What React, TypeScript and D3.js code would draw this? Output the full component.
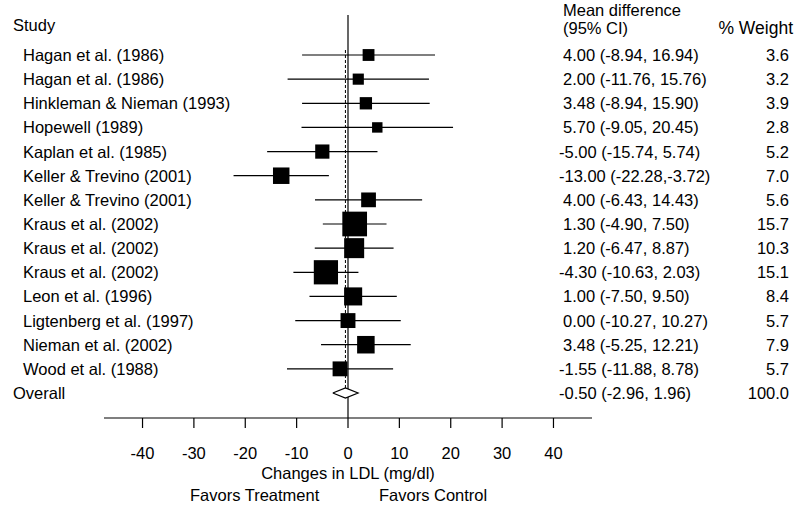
import React from "react";
import * as d3 from "d3";

const studies = [
  "Hagan et al. (1986)",
  "Hagan et al. (1986)",
  "Hinkleman & Nieman (1993)",
  "Hopewell (1989)",
  "Kaplan et al. (1985)",
  "Keller & Trevino (2001)",
  "Keller & Trevino (2001)",
  "Kraus et al. (2002)",
  "Kraus et al. (2002)",
  "Kraus et al. (2002)",
  "Leon et al. (1996)",
  "Ligtenberg et al. (1997)",
  "Nieman et al. (2002)",
  "Wood et al. (1988)",
];
const means = [4.0, 2.0, 3.48, 5.7, -5.0, -13.0, 4.0, 1.3, 1.2, -4.3, 1.0, 0.0, 3.48, -1.55];
const lows = [-8.94, -11.76, -8.94, -9.05, -15.74, -22.28, -6.43, -4.9, -6.47, -10.63, -7.5, -10.27, -5.25, -11.88];
const highs = [16.94, 15.76, 15.9, 20.45, 5.74, -3.72, 14.43, 7.5, 8.87, 2.03, 9.5, 10.27, 12.21, 8.78];
const weights = [3.6, 3.2, 3.9, 2.8, 5.2, 7.0, 5.6, 15.7, 10.3, 15.1, 8.4, 5.7, 7.9, 5.7];
const ciLabels = [
  "4.00 (-8.94, 16.94)",
  "2.00 (-11.76, 15.76)",
  "3.48 (-8.94, 15.90)",
  "5.70 (-9.05, 20.45)",
  "-5.00 (-15.74, 5.74)",
  "-13.00 (-22.28,-3.72)",
  "4.00 (-6.43, 14.43)",
  "1.30 (-4.90, 7.50)",
  "1.20 (-6.47, 8.87)",
  "-4.30 (-10.63, 2.03)",
  "1.00 (-7.50, 9.50)",
  "0.00 (-10.27, 10.27)",
  "3.48 (-5.25, 12.21)",
  "-1.55 (-11.88, 8.78)",
];
const overallLabel = "Overall";
const overallMean = -0.5;
const overallLow = -2.96;
const overallHigh = 1.96;
const overallCi = "-0.50 (-2.96, 1.96)";
const overallWeight = 100.0;
const xTicks = [-40, -30, -20, -10, 0, 10, 20, 30, 40];

const W = 800;
const H = 506;
const FONT = "'Liberation Sans', Arial, Helvetica, sans-serif";
const FS = 16.5;

export default function App() {
  const x = d3.scaleLinear().domain([-47.5, 47.5]).range([104, 592]);
  const y = d3.scaleLinear().domain([0, studies.length]).range([55, 393]);
  const size = d3.scaleSqrt().domain([0, 15.7]).range([0, 24.7]);
  const axisY = 418;
  const yo = y(studies.length);
  const diamondH = 5;
  const diamond = d3.line<[number, number]>()([
    [x(overallLow), yo],
    [x(overallMean), yo - diamondH],
    [x(overallHigh), yo],
    [x(overallMean), yo + diamondH],
    [x(overallLow), yo],
  ]) as string;
  const ciX = (m: number) => (m < 0 ? 559 : 563);

  return (
    <svg
      width={W}
      height={H}
      style={{ position: "absolute", left: 0, top: 0, background: "#fff" }}
      fontFamily={FONT}
      fontSize={FS}
    >
      <rect width={W} height={H} fill="#fff" />
      {/* headers */}
      <text x={13} y={31}>Study</text>
      <text x={563} y={16}>Mean difference</text>
      <text x={563} y={34}>(95% CI)</text>
      <text x={793} y={34} textAnchor="end" fontSize={17.5}>% Weight</text>

      {/* zero line */}
      <line x1={x(0)} x2={x(0)} y1={15} y2={axisY} stroke="#000" strokeWidth={1.2} />
      {/* overall dashed line */}
      <line
        x1={x(overallMean)}
        x2={x(overallMean)}
        y1={y(0) - 5}
        y2={yo + 5}
        stroke="#000"
        strokeWidth={1}
        strokeDasharray="3,2"
      />

      {studies.map((s, i) => {
        const cy = y(i);
        const sz = size(weights[i]);
        return (
          <g key={i}>
            <text x={23} y={cy + 6}>{s}</text>
            <line x1={x(lows[i])} x2={x(highs[i])} y1={cy} y2={cy} stroke="#000" strokeWidth={1.2} />
            <rect x={x(means[i]) - sz / 2} y={cy - sz / 2} width={sz} height={sz} fill="#000" />
            <text x={ciX(means[i])} y={cy + 6}>{ciLabels[i]}</text>
            <text x={789} y={cy + 6} textAnchor="end">{weights[i].toFixed(1)}</text>
          </g>
        );
      })}

      {/* overall */}
      <text x={13} y={yo + 6}>{overallLabel}</text>
      <path d={diamond} fill="#fff" stroke="#000" strokeWidth={1.2} />
      <text x={ciX(overallMean)} y={yo + 6}>{overallCi}</text>
      <text x={789} y={yo + 6} textAnchor="end">{overallWeight.toFixed(1)}</text>

      {/* axis */}
      <line x1={x.range()[0]} x2={x.range()[1]} y1={axisY} y2={axisY} stroke="#000" strokeWidth={1.2} />
      {xTicks.map((t) => (
        <g key={t}>
          <line x1={x(t)} x2={x(t)} y1={axisY} y2={axisY + 10} stroke="#000" strokeWidth={1.2} />
          <text x={x(t)} y={459} textAnchor="middle">{t}</text>
        </g>
      ))}
      <text x={x(0)} y={479} textAnchor="middle">Changes in LDL (mg/dl)</text>
      <text x={190} y={501}>Favors Treatment</text>
      <text x={379} y={501}>Favors Control</text>
    </svg>
  );
}
